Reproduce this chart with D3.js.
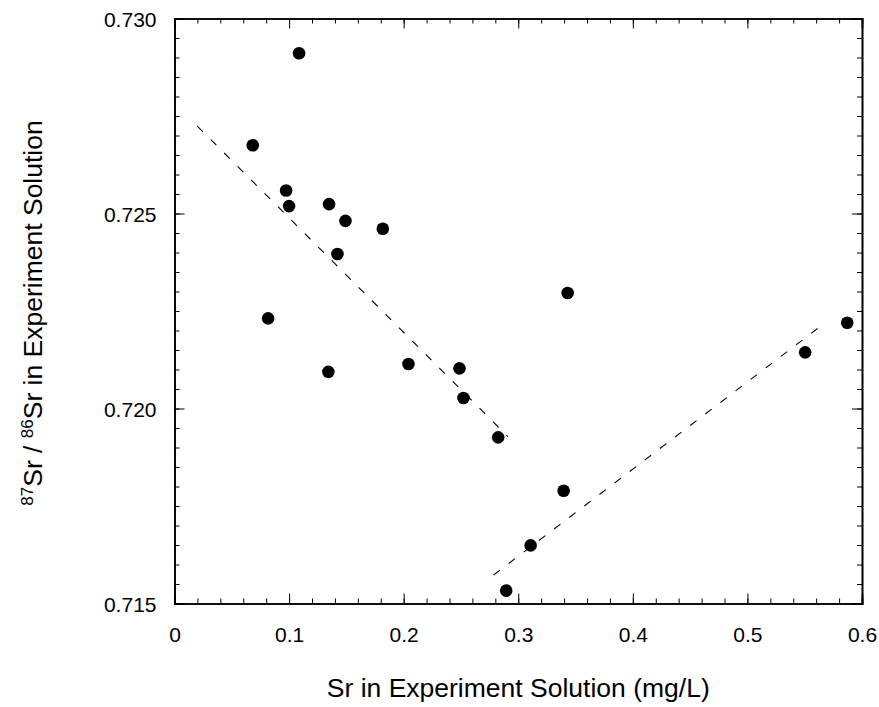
<!DOCTYPE html>
<html>
<head>
<meta charset="utf-8">
<script src="https://cdn.jsdelivr.net/npm/d3@7"></script>
<style>
  body { margin: 0; background: #fff; }
  text { font-family: "Liberation Sans", Arial, sans-serif; fill: #000; }
</style>
</head>
<body>
<div id="chart-container"></div>
<script>
// data
let srConc = [0.0683, 0.0817, 0.0974, 0.1000, 0.1087, 0.1343, 0.1349, 0.1422, 0.1492, 0.1818,
  0.2042, 0.2487, 0.2522, 0.2825, 0.2895, 0.3108, 0.3396, 0.3431, 0.5504, 0.5871];
let srRatio = [0.72675, 0.72231, 0.72559, 0.72519, 0.72911, 0.72094, 0.72524, 0.72396, 0.72481, 0.72461,
  0.72114, 0.72103, 0.72027, 0.71926, 0.71533, 0.71649, 0.71789, 0.72296, 0.72144, 0.72220];
// dashed trend lines [x, y] end points
let trendLow = [[0.0199, 0.72724], [0.2910, 0.71928]];
let trendHigh = [[0.2785, 0.71573], [0.5652, 0.72214]];
let xTicks = [0, 0.1, 0.2, 0.3, 0.4, 0.5, 0.6];
let yTicks = [0.715, 0.720, 0.725, 0.730];

let w = 879, h = 707;
let margin = {left: 174.5, right: 879 - 862, top: 18.5, bottom: 707 - 603.5};

let svg = d3.select("#chart-container")
  .append("svg")
  .attr("width", w)
  .attr("height", h);

let x = d3.scaleLinear().domain([0, 0.6]).range([margin.left, w - margin.right]);
let y = d3.scaleLinear().domain([0.715, 0.730]).range([h - margin.bottom, margin.top]);

let xMinor = d3.range(0, 0.6001, 0.02);
let yMinor = d3.range(0.715, 0.73001, 0.0005);

// axes, ticks pointing inward
function drawAxis(axis, pos, major, minor, label) {
  let g = svg.append("g").attr("transform", pos);
  g.call(axis.tickValues(minor).tickSize(-5).tickFormat(""));
  g.append("g").call(axis.tickValues(major).tickSize(-10)
    .tickFormat(label ? label : ""));
  g.selectAll("path").attr("stroke", "#000").attr("stroke-width", 1.6);
  g.selectAll("line").attr("stroke", "#000").attr("stroke-width", 1);
  g.selectAll("text").style("font-size", "21px").attr("fill", "#000");
  return g;
}

let bottom = drawAxis(d3.axisBottom(x), "translate(0," + (h - margin.bottom) + ")", xTicks, xMinor, d => d3.format("")(d));
bottom.selectAll("text").attr("y", 38.5).attr("dy", null);
drawAxis(d3.axisTop(x), "translate(0," + margin.top + ")", xTicks, xMinor, null);
let left = drawAxis(d3.axisLeft(y), "translate(" + margin.left + ",0)", yTicks, yMinor, d3.format(".3f"));
left.selectAll("text").attr("x", -18).attr("dy", "0.36em");
drawAxis(d3.axisRight(y), "translate(" + (w - margin.right) + ",0)", yTicks, yMinor, null);

// trend lines
let line = d3.line().x(d => x(d[0])).y(d => y(d[1]));
[trendLow, trendHigh].forEach(t => {
  svg.append("path")
    .attr("d", line(t))
    .attr("fill", "none")
    .attr("stroke", "#000")
    .attr("stroke-width", 1.1)
    .attr("stroke-dasharray", "8,11");
});

// points
svg.append("g").selectAll("circle").data(srConc).enter().append("circle")
  .attr("cx", d => x(d))
  .attr("cy", (d, i) => y(srRatio[i]))
  .attr("r", 6.3)
  .attr("fill", "#000");

// axis titles
svg.append("text")
  .attr("x", (margin.left + w - margin.right) / 2)
  .attr("y", 697)
  .style("text-anchor", "middle")
  .style("font-size", "26.5px")
  .text("Sr in Experiment Solution (mg/L)");

let yt = svg.append("text")
  .attr("transform", "translate(42,313)rotate(-90)")
  .style("text-anchor", "middle")
  .style("font-size", "26.5px");
yt.append("tspan").attr("baseline-shift", "super").style("font-size", "17px").text("87");
yt.append("tspan").text("Sr / ");
yt.append("tspan").attr("baseline-shift", "super").style("font-size", "17px").text("86");
yt.append("tspan").text("Sr in Experiment Solution");
</script>
</body>
</html>
